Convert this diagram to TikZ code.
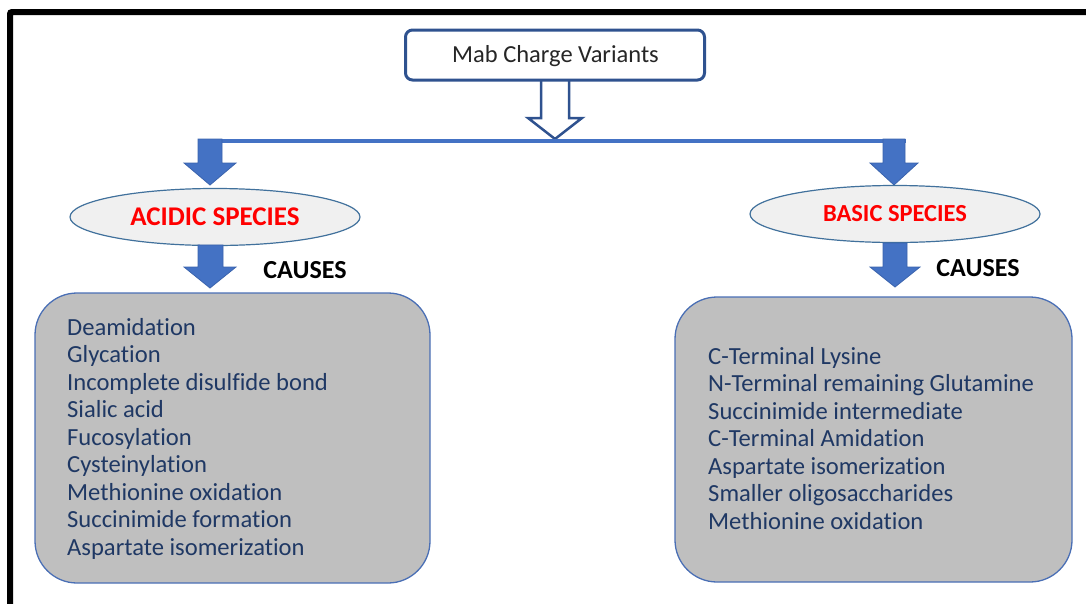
\documentclass[tikz,border=0pt]{standalone}
\usepackage{fontspec}
\setmainfont{Carlito}[Ligatures={NoCommon}]
\usetikzlibrary{shapes.geometric}
\definecolor{arrowblue}{HTML}{4472C4}
\definecolor{arrowedge}{HTML}{3A63AD}
\definecolor{titleblue}{HTML}{2F528F}
\definecolor{ellfill}{HTML}{F0F0F0}
\definecolor{elledge}{HTML}{41719C}
\definecolor{boxfill}{HTML}{BFBFBF}
\definecolor{boxedge}{HTML}{4A6FB5}
\definecolor{navy}{HTML}{1F3864}
\definecolor{titletext}{HTML}{262626}
\tikzset{
  blockarrow/.style={fill=arrowblue, draw=arrowedge, line width=0.8pt, line join=miter},
  species/.style={ellipse, draw=elledge, fill=ellfill, line width=1.2pt, minimum width=290pt, minimum height=57pt, inner sep=0pt},
  causebox/.style={draw=boxedge, fill=boxfill, line width=1.3pt, rounded corners=42pt},
  causelabel/.style={font=\fontsize{26}{30}\selectfont\bfseries, text=black},
  item/.style={anchor=base west, inner sep=0pt, font=\fontsize{24.6}{27.5}\selectfont, text=navy},
}
\begin{document}
\begin{tikzpicture}[x=1pt,y=-1pt]
\useasboundingbox (0,0) rectangle (1086,603);
% frame (top and left only)
\draw[line width=6pt, rounded corners=2pt] (10,606) -- (10,12) -- (1090,12);

% hollow arrow below title
\draw[draw=titleblue, line width=2.5pt, fill=white, line join=miter] (541,76) -- (541,118) -- (528,118) -- (555,139) -- (582,118) -- (569,118) -- (569,76);
% title
\node[draw=titleblue, line width=3pt, rounded corners=7pt, fill=white, minimum width=299pt, minimum height=50pt, inner sep=0pt] (title) at (555,55) {};
\node[anchor=base, inner sep=0pt, font=\fontsize{24.5}{28}\selectfont, text=titletext] (titletext) at (555.5,62.5) {Mab Charge Variants};

% horizontal bar
\draw[arrowblue, line width=4pt] (198,141) -- (906,141);
% arrows to species
\draw[blockarrow] (198,139) -- (198,163) -- (184,163) -- (210,185) -- (236,163) -- (222,163) -- (222,139) -- cycle;
\draw[blockarrow] (883,139) -- (883,163) -- (870,163) -- (894,185) -- (918,163) -- (905,163) -- (905,139) -- cycle;

% species ellipses
\node[species, font=\fontsize{27}{30}\selectfont\bfseries, text=red] (acid) at (215,217) {ACIDIC SPECIES};
\node[species, font=\fontsize{24.5}{28}\selectfont\bfseries, text=red] (base) at (895,214) {BASIC SPECIES};

% arrows to causes
\draw[blockarrow] (198,245) -- (198,267) -- (184,267) -- (210,288) -- (236,267) -- (223,267) -- (223,245) -- cycle;
\draw[blockarrow] (883,243) -- (883,267) -- (870,267) -- (895,287) -- (920,267) -- (907,267) -- (907,243) -- cycle;

\node[causelabel] (causeA) at (305,270) {CAUSES};
\node[causelabel] (causeB) at (978,268) {CAUSES};

% cause boxes
\draw[causebox] (35,293) rectangle (430,583);
\draw[causebox] (675,297) rectangle (1072,582);

\foreach \t [count=\i from 0] in {Deamidation, Glycation, Incomplete disulfide bond, Sialic acid, Fucosylation, Cysteinylation, Methionine oxidation, Succinimide formation, Aspartate isomerization}
  \node[item] (acid\i) at (67,{335+27.5*\i}) {\t};

\foreach \t [count=\i from 0] in {C-Terminal Lysine, N-Terminal remaining Glutamine, Succinimide intermediate, C-Terminal Amidation, Aspartate isomerization, Smaller oligosaccharides, Methionine oxidation}
  \node[item] (base\i) at (708,{364+27.5*\i}) {\t};
\end{tikzpicture}
\end{document}
